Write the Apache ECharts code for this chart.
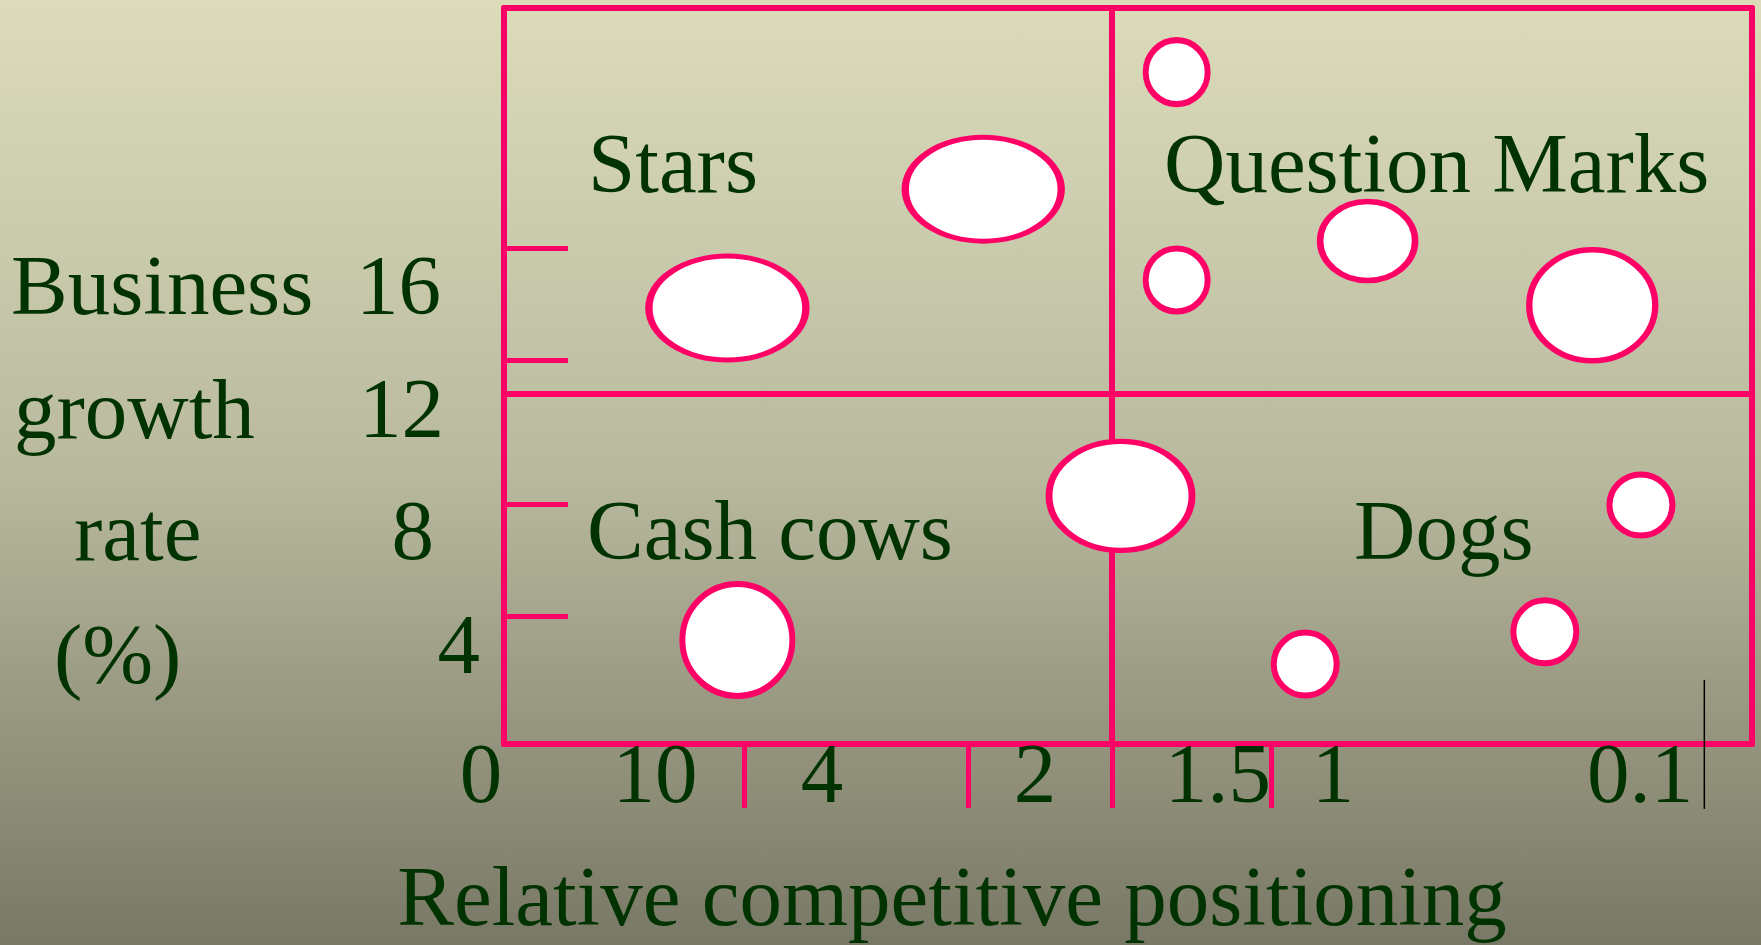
<!DOCTYPE html>
<html>
<head>
<meta charset="utf-8">
<title>Growth-share matrix</title>
<script src="https://cdn.jsdelivr.net/npm/echarts@6/dist/echarts.min.js"></script>
<style>
  html, body { margin: 0; padding: 0; }
  body { background: linear-gradient(to bottom, #dcdcbc 0%, #b9b99e 50%, #787866 100%); }
  #chart { width: 1761px; height: 945px; }
</style>
</head>
<body>
<div id="chart"></div>
<script>
// x: relative competitive position (index 0-100), y: business growth rate (%)
const bubbleX = [38.4, 17.9, 53.9, 53.9, 69.2, 87.2, 18.7, 49.4, 91.1, 83.4, 64.2]
const bubbleY = [15.83, 12.44, 19.17, 13.24, 14.35, 12.52, 2.97, 7.08, 6.82, 3.2, 2.28]
const bubbleW = [156, 157, 62, 62, 95, 126, 110, 143, 63, 63, 63]
const bubbleH = [104, 104, 64, 63, 79, 111, 112, 109, 61, 63, 63]

const xTickLabels = ['0', '10', '4', '2', '1.5', '1', '0.1']
const xTickLabelAt = [-1.84, 12.1, 25.48, 42.55, 57.21, 66.43, 91.03]
const xTickAt = [19.26, 37.2, 48.72, 61.5]

const yTickLabels = ['16', '12', '8', '4']
const yTickLabelAt = [12.9, 9.41, 5.91, 2.67]
const yTickAt = [3.64, 6.84, 10.95, 14.15]

const xSplit = 48.72
const ySplit = 10

// stray marker line next to the 0.1 label
const markerX = [96.18, 96.18]
const markerY = [1.83, -1.85]

const PINK = '#ff0066'
const INK = '#003300'
const FAMILY = '"Liberation Serif", "Times New Roman", serif'
const SIZE = 85
const FONT = SIZE + 'px ' + FAMILY

// where the tick label rows sit, in axis units
const xLabelRow = -1.03
const yLabelCol = [-5.05, -4.81, -5.61, -1.92]

const chart = echarts.init(document.getElementById('chart'), null, { renderer: 'canvas' })

function text(str, x, y, align) {
  return {
    type: 'text',
    silent: true,
    style: {
      text: str, x: x, y: y, font: FONT,
      fill: INK, textFill: INK,
      textAlign: align || 'left', align: align || 'left',
      textVerticalAlign: 'middle', verticalAlign: 'middle'
    }
  }
}

const tickLabelData = []
xTickLabels.forEach((t, i) => {
  tickLabelData.push({ name: t, value: [xTickLabelAt[i], xLabelRow], label: { align: 'center' } })
})
yTickLabels.forEach((t, i) => {
  tickLabelData.push({ name: t, value: [yLabelCol[i], yTickLabelAt[i]], label: { align: 'right' } })
})

const option = {
  backgroundColor: 'transparent',
  animation: false,
  grid: { left: 504, top: 8, width: 1248, height: 736 },
  xAxis: [
    {
      type: 'value', min: 0, max: 100, position: 'bottom',
      axisLine: { onZero: false, lineStyle: { color: PINK, width: 6 } },
      axisTick: { show: true, inside: false, length: 64, customValues: xTickAt, lineStyle: { color: PINK, width: 5 } },
      axisLabel: { show: false },
      splitLine: { show: false }
    },
    {
      type: 'value', min: 0, max: 100, position: 'top',
      axisLine: { onZero: false, lineStyle: { color: PINK, width: 6 } },
      axisTick: { show: false }, axisLabel: { show: false }, splitLine: { show: false }
    }
  ],
  yAxis: [
    {
      type: 'value', min: 0, max: 21, position: 'left',
      axisLine: { onZero: false, lineStyle: { color: PINK, width: 6 } },
      axisTick: { show: true, inside: true, length: 64, customValues: yTickAt, lineStyle: { color: PINK, width: 5 } },
      axisLabel: { show: false },
      splitLine: { show: false }
    },
    {
      type: 'value', min: 0, max: 21, position: 'right',
      axisLine: { onZero: false, lineStyle: { color: PINK, width: 6 } },
      axisTick: { show: false }, axisLabel: { show: false }, splitLine: { show: false }
    }
  ],
  graphic: [
    text('Business', 11, 292),
    text('growth', 14, 416),
    text('rate', 74, 538),
    text('(%)', 54, 661),
    text('Stars', 588, 170),
    text('Question Marks', 1164, 170),
    text('Cash cows', 587, 537),
    text('Dogs', 1354, 537),
    text('Relative competitive positioning', 952, 903, 'center')
  ],
  series: [
    {
      // tick labels + quadrant dividers
      type: 'scatter',
      z: 1,
      clip: false,
      silent: true,
      symbol: 'circle',
      symbolSize: 1,
      itemStyle: { color: 'rgba(0,0,0,0)' },
      label: {
        show: true,
        position: 'inside',
        formatter: '{b}',
        color: INK,
        opacity: 1,
        textBorderWidth: 0,
        textBorderColor: 'transparent',
        fontFamily: FAMILY,
        fontSize: SIZE,
        verticalAlign: 'middle'
      },
      data: tickLabelData,
      markLine: {
        z: 1,
        silent: true,
        symbol: ['none', 'none'],
        label: { show: false },
        lineStyle: { color: PINK, width: 6, type: 'solid' },
        data: [{ xAxis: xSplit }, { yAxis: ySplit }]
      }
    },
    {
      type: 'line',
      z: 4,
      clip: false,
      silent: true,
      symbol: 'none',
      lineStyle: { color: '#000000', width: 1.5 },
      data: markerX.map((x, i) => [x, markerY[i]])
    },
    {
      type: 'scatter',
      z: 5,
      silent: true,
      symbol: 'circle',
      symbolSize: v => [v[2], v[3]],
      itemStyle: { color: '#ffffff', borderColor: PINK, borderWidth: 6, opacity: 1 },
      data: bubbleX.map((x, i) => [x, bubbleY[i], bubbleW[i], bubbleH[i]])
    }
  ]
}

chart.setOption(option)
</script>
</body>
</html>
